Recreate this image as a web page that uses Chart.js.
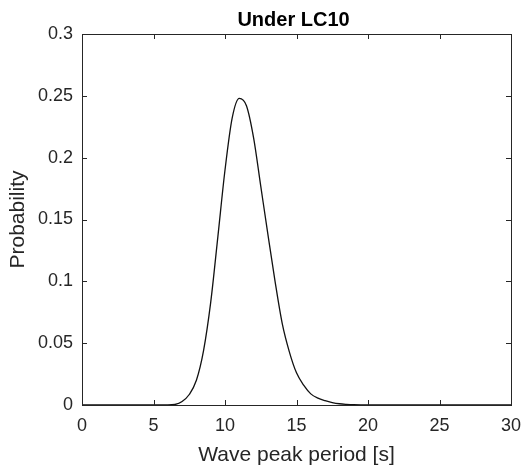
<!DOCTYPE html>
<html>
<head>
<meta charset="utf-8">
<script src="https://cdn.jsdelivr.net/npm/chart.js@4.4.1/dist/chart.umd.min.js"></script>
<style>
  html, body { margin: 0; padding: 0; background: #fff; }
  #wrap { width: 522px; height: 468px; }
</style>
</head>
<body>
<div id="wrap"><canvas id="pdfChart" width="522" height="468"></canvas></div>
<script>
// Wave peak period [s] and probability
const periods = [0, 2, 4, 5, 6, 6.5, 7, 7.5, 8, 8.5, 9, 9.5, 10, 10.5, 11, 11.5, 12, 12.5, 13, 13.5, 14, 14.5, 15, 15.5, 16, 16.5, 17, 17.5, 18, 18.5, 19, 20, 22, 25, 30];
const probability = [0, 0, 0, 0, 0, 0.0004, 0.0028, 0.0085, 0.02, 0.044, 0.083, 0.136, 0.19, 0.232, 0.248, 0.242, 0.216, 0.177, 0.138, 0.1, 0.066, 0.043, 0.026, 0.016, 0.009, 0.0055, 0.0035, 0.002, 0.001, 0.0005, 0.0002, 0, 0, 0, 0];
const xTicks = [0, 5, 10, 15, 20, 25, 30];
const yTicks = [0, 0.05, 0.1, 0.15, 0.2, 0.25, 0.3];

const axisColor = '#262626';
const fontFamily = 'Liberation Sans, Arial, sans-serif';
const tickFont = { family: fontFamily, size: 18 };
const labelFont = { family: fontFamily, size: 21 };

// MATLAB-style box with inward ticks, plus the title over the axes
const boxPlugin = {
  id: 'box',
  afterDraw(chart) {
    const { ctx, chartArea: a, scales } = chart;
    ctx.save();
    ctx.strokeStyle = axisColor;
    ctx.lineWidth = 1;
    ctx.strokeRect(a.left + 0.5, a.top + 0.5, a.right - a.left, a.bottom - a.top);
    ctx.beginPath();
    xTicks.forEach(v => {
      const px = Math.round(scales.x.getPixelForValue(v)) + 0.5;
      ctx.moveTo(px, a.bottom); ctx.lineTo(px, a.bottom - 5);
      ctx.moveTo(px, a.top); ctx.lineTo(px, a.top + 5);
    });
    yTicks.forEach(v => {
      const py = Math.round(scales.y.getPixelForValue(v)) + 0.5;
      ctx.moveTo(a.left, py); ctx.lineTo(a.left + 5, py);
      ctx.moveTo(a.right, py); ctx.lineTo(a.right - 5, py);
    });
    ctx.stroke();
    ctx.fillStyle = '#000';
    ctx.font = 'bold 20px ' + fontFamily;
    ctx.textAlign = 'center';
    ctx.textBaseline = 'alphabetic';
    ctx.fillText('Under LC10', (a.left + a.right) / 2 - 3, 26);
    ctx.restore();
  }
};

new Chart(document.getElementById('pdfChart'), {
  type: 'line',
  data: {
    datasets: [{
      data: periods.map((p, i) => ({ x: p, y: probability[i] })),
      borderColor: '#111',
      borderWidth: 1.3,
      pointRadius: 0,
      cubicInterpolationMode: 'monotone',
      fill: false
    }]
  },
  options: {
    responsive: false,
    animation: false,
    layout: { padding: { top: 34, right: 11, left: 0, bottom: 0 } },
    plugins: { legend: { display: false }, tooltip: { enabled: false } },
    scales: {
      x: {
        type: 'linear', min: 0, max: 30,
        afterBuildTicks: s => { s.ticks = xTicks.map(v => ({ value: v })); },
        afterFit: s => { s.height = 63; s.paddingLeft = 0; s.paddingRight = 0; },
        grid: { display: false, drawTicks: false },
        border: { display: false },
        ticks: { color: axisColor, font: tickFont, padding: 10, maxRotation: 0 },
        title: {
          display: true, text: 'Wave peak period [s]', color: axisColor,
          font: labelFont, padding: { top: 0, bottom: 0 }
        }
      },
      y: {
        min: 0, max: 0.3,
        afterBuildTicks: s => { s.ticks = yTicks.map(v => ({ value: v })); },
        afterFit: s => { s.width = 82; s.paddingTop = 0; s.paddingBottom = 0; },
        grid: { display: false, drawTicks: false },
        border: { display: false },
        ticks: { color: axisColor, font: tickFont, padding: 9, callback: v => String(+v.toFixed(2)) },
        title: {
          display: true, text: 'Probability', color: axisColor,
          font: labelFont, padding: { top: 6, bottom: 0 }
        }
      }
    }
  },
  plugins: [boxPlugin]
});
</script>
</body>
</html>
